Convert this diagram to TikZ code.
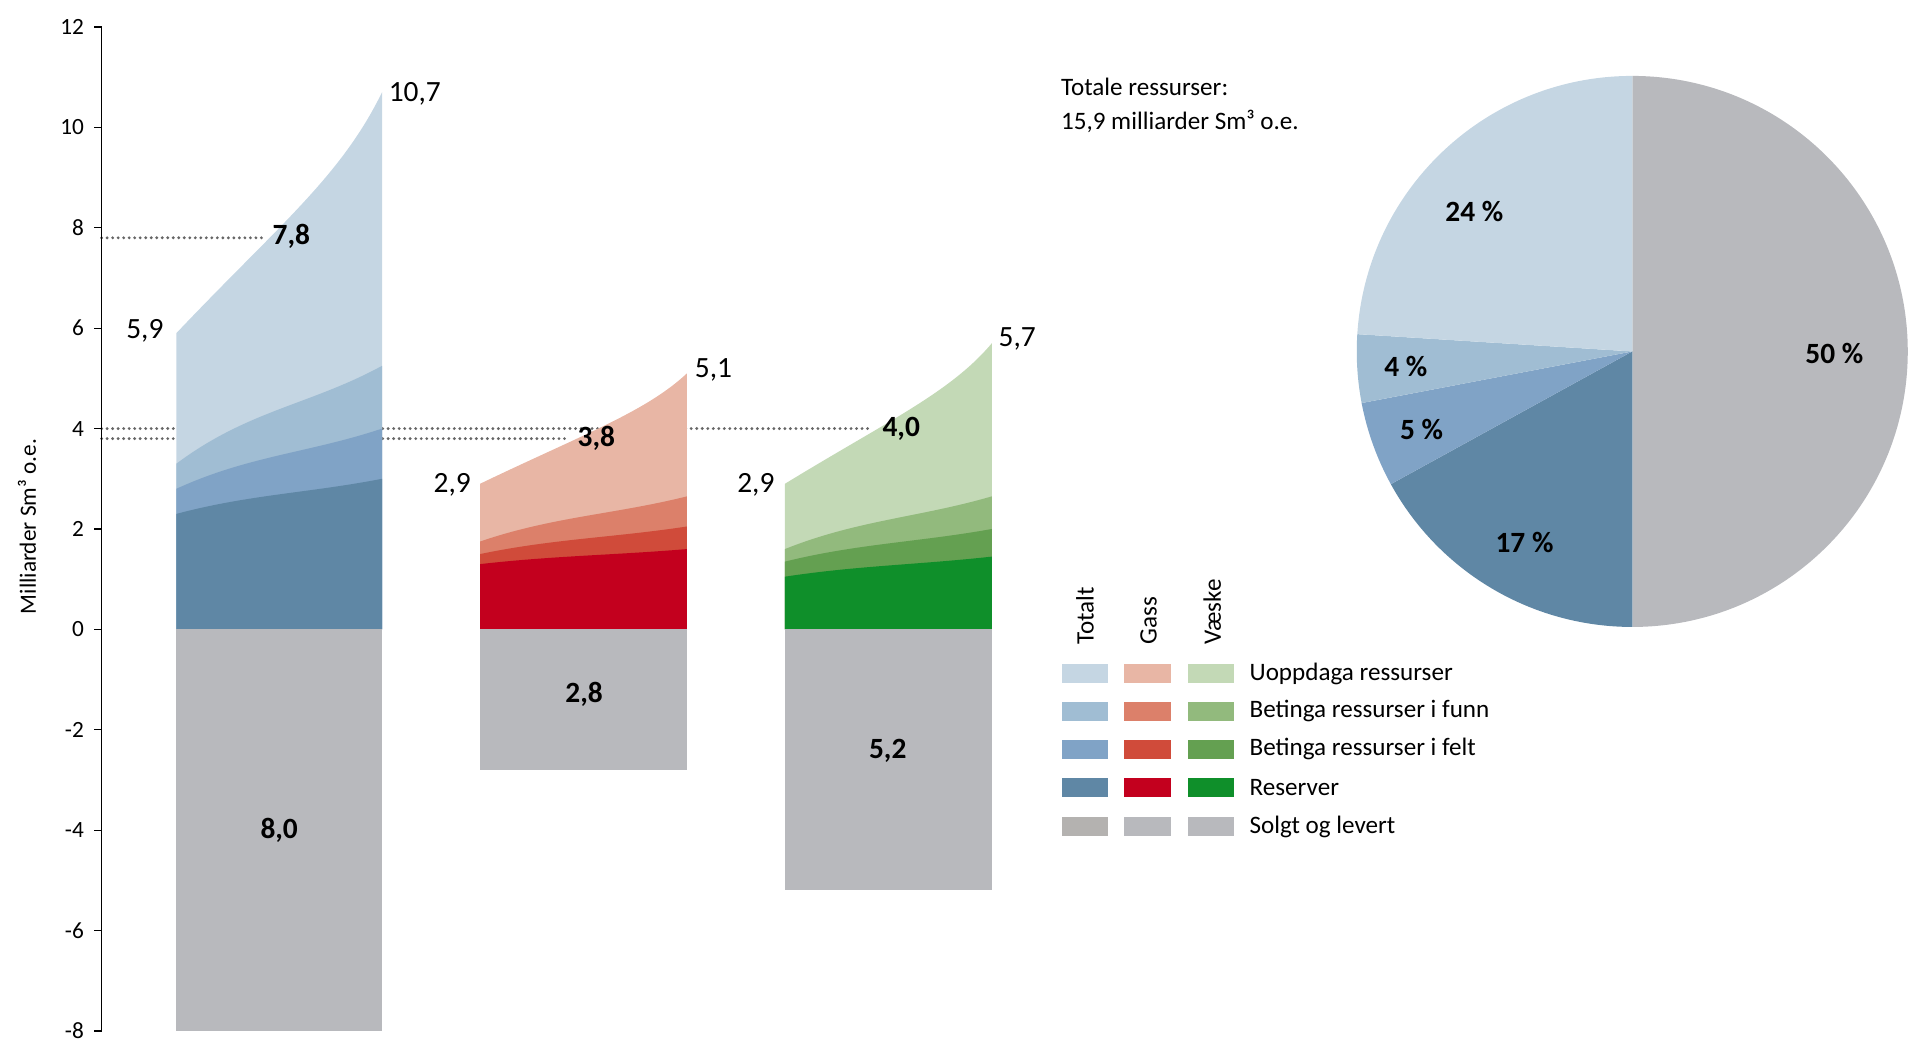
\documentclass[tikz,border=0pt]{standalone}
\usepackage{fontspec}
\setmainfont{Carlito}
\definecolor{tU}{HTML}{C5D6E3}\definecolor{tF}{HTML}{A0BDD3}\definecolor{tE}{HTML}{80A3C6}\definecolor{tR}{HTML}{5F87A5}
\definecolor{gU}{HTML}{E8B6A5}\definecolor{gF}{HTML}{DC806A}\definecolor{gE}{HTML}{D04B3A}\definecolor{gR}{HTML}{C3001E}
\definecolor{vU}{HTML}{C3D9B6}\definecolor{vF}{HTML}{92BA7D}\definecolor{vE}{HTML}{64A051}\definecolor{vR}{HTML}{0F8F2A}
\definecolor{sold}{HTML}{B8B9BD}\definecolor{soldT}{HTML}{B4B2B0}
\newcommand\Y[1]{514-41*(#1)}
\newcommand\toplayer[5]{\fill[#5] (#1,514) -- (#1,{\Y{#3}}) .. controls ({#1+0.5*(#2-#1)},{\Y{#3+0.45*(#4-#3)}}) and ({#1+0.8*(#2-#1)},{\Y{#3+0.65*(#4-#3)}}) .. (#2,{\Y{#4}}) -- (#2,514) -- cycle;}
\newcommand\slayer[5]{\fill[#5] (#1,514) -- (#1,{\Y{#3}}) .. controls ({#1+0.35*(#2-#1)},{\Y{#3+0.55*(#4-#3)}}) and ({#1+0.65*(#2-#1)},{\Y{#3+0.6*(#4-#3)}}) .. (#2,{\Y{#4}}) -- (#2,514) -- cycle;}
\begin{document}
\begin{tikzpicture}[x=1pt,y=-1pt,
  num/.style={font=\fontsize{24}{26}\selectfont},
  bnum/.style={font=\fontsize{24}{26}\selectfont\bfseries},
  axl/.style={font=\fontsize{19}{21}\selectfont},
  lg/.style={font=\fontsize{20.5}{22}\selectfont},
  dots/.style={draw=black!60,line width=2.6pt,line cap=round,dash pattern=on 0pt off 4.5pt}]
\useasboundingbox (0,0) rectangle (1568,860);
\draw[dots] (83,{\Y{7.8}}) -- (215,{\Y{7.8}});
\draw[dots] (83,{\Y{4.0}}) -- (712,{\Y{4.0}});
\draw[dots] (83,{\Y{3.8}}) -- (465,{\Y{3.8}});
\toplayer{144}{312}{5.9}{10.7}{tU}
\slayer{144}{312}{3.3}{5.25}{tF}
\slayer{144}{312}{2.8}{4.0}{tE}
\slayer{144}{312}{2.3}{3.0}{tR}
\fill[sold] (144,514) rectangle (312,{\Y{-8}});
\toplayer{392}{561}{2.9}{5.1}{gU}
\slayer{392}{561}{1.75}{2.65}{gF}
\slayer{392}{561}{1.5}{2.05}{gE}
\slayer{392}{561}{1.3}{1.6}{gR}
\fill[sold] (392,514) rectangle (561,{\Y{-2.8}});
\toplayer{641}{810}{2.9}{5.7}{vU}
\slayer{641}{810}{1.6}{2.65}{vF}
\slayer{641}{810}{1.35}{2.0}{vE}
\slayer{641}{810}{1.05}{1.45}{vR}
\fill[sold] (641,514) rectangle (810,{\Y{-5.2}});
\draw[line width=1pt] (83,{\Y{12}}) -- (83,{\Y{-8}});
\foreach \v/\t in {12/12,10/10,8/8,6/6,4/4,2/2,0/0,-2/-2,-4/-4,-6/-6,-8/-8}{
  \draw[line width=1pt] (77,{\Y{\v}}) -- (83,{\Y{\v}});
  \node[axl,anchor=east] (t\t) at (72,{\Y{\v}}) {\t};}
\node[axl,rotate=90] (ylab) at (22,430) {Milliarder Sm³ o.e.};
\node[num,anchor=west] (a1) at (314,77) {10,7};
\node[num,anchor=east] (a2) at (137,270) {5,9};
\node[bnum] (a3) at (238,193) {7,8};
\node[bnum] (a4) at (487,358) {3,8};
\node[bnum] (a5) at (736,350) {4,0};
\node[num,anchor=west] (a6) at (564,302) {5,1};
\node[num,anchor=east] (a7) at (388,396) {2,9};
\node[num,anchor=east] (a8) at (636,396) {2,9};
\node[num,anchor=west] (a9) at (812,277) {5,7};
\node[bnum] (b1) at (228,678) {8,0};
\node[bnum] (b2) at (477,567) {2,8};
\node[bnum] (b3) at (725,613) {5,2};
\begin{scope}[shift={(1333,287)},y=1pt]
\fill[sold] (0,0) -- (-90:225) arc[start angle=-90,end angle=90,radius=225] -- cycle;
\fill[tR] (0,0) -- (-90:225) arc[start angle=-90,end angle=-151.2,radius=225] -- cycle;
\fill[tE] (0,0) -- (-151.2:225) arc[start angle=-151.2,end angle=-169.2,radius=225] -- cycle;
\fill[tF] (0,0) -- (-169.2:225) arc[start angle=-169.2,end angle=-183.6,radius=225] -- cycle;
\fill[tU] (0,0) -- (-183.6:225) arc[start angle=-183.6,end angle=-270,radius=225] -- cycle;
\end{scope}
\node[bnum] (p1) at (1204,173) {24 \%};
\node[bnum] (p2) at (1148,299) {4 \%};
\node[bnum] (p3) at (1161,351) {5 \%};
\node[bnum] (p4) at (1245,443) {17 \%};
\node[bnum] (p5) at (1498,289) {50 \%};
\node[lg,anchor=west] (pt1) at (863,71) {Totale ressurser:};
\node[lg,anchor=west] (pt2) at (863,99) {15,9 milliarder Sm³ o.e.};
\node[lg,rotate=90,anchor=west] (h1) at (886,530) {Totalt};
\node[lg,rotate=90,anchor=west] (h2) at (938,530) {Gass};
\node[lg,rotate=90,anchor=west] (h3) at (990,530) {Væske};
\foreach \r/\a/\b/\c/\t in {550/tU/gU/vU/Uoppdaga ressurser,581/tF/gF/vF/Betinga ressurser i funn,612/tE/gE/vE/Betinga ressurser i felt,643/tR/gR/vR/Reserver,675/soldT/sold/sold/Solgt og levert}{
  \fill[\a] (867,\r-8) rectangle (905,\r+8);
  \fill[\b] (918,\r-8) rectangle (956,\r+8);
  \fill[\c] (970,\r-8) rectangle (1008,\r+8);
  \node[lg,anchor=west] at (1017,\r) {\t};}
\end{tikzpicture}
\end{document}
